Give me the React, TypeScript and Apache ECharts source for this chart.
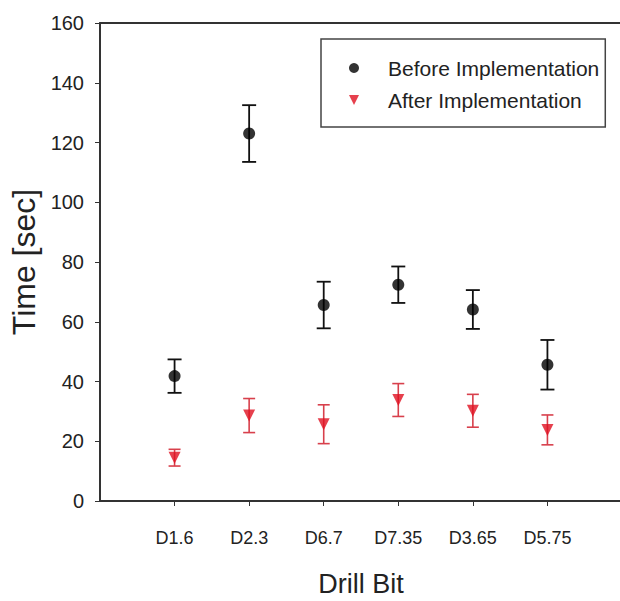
import React, { useEffect, useRef } from "react";
import * as echarts from "echarts";

const categories = ["D1.6", "D2.3", "D6.7", "D7.35", "D3.65", "D5.75"];
const beforeMean = [41.8, 123, 65.6, 72.4, 64.1, 45.6];
const beforeErr = [5.6, 9.5, 7.8, 6.1, 6.5, 8.3];
const afterMean = [14.5, 28.6, 25.7, 33.8, 30.2, 23.8];
const afterErr = [2.8, 5.7, 6.5, 5.5, 5.5, 5.0];
const yTicks = [0, 20, 40, 60, 80, 100, 120, 140, 160];

const FONT = "'Liberation Sans', Arial, sans-serif";

function errRender(capW: number, color: string, lw: number) {
  return (params: any, api: any) => {
    const x = api.value(0);
    const lo = api.value(1);
    const hi = api.value(2);
    const pHi = api.coord([x, hi]);
    const pLo = api.coord([x, lo]);
    const st = { stroke: color, lineWidth: lw };
    return {
      type: "group",
      children: [
        { type: "line", shape: { x1: pHi[0], y1: pHi[1], x2: pLo[0], y2: pLo[1] }, style: st },
        { type: "line", shape: { x1: pHi[0] - capW / 2, y1: pHi[1], x2: pHi[0] + capW / 2, y2: pHi[1] }, style: st },
        { type: "line", shape: { x1: pLo[0] - capW / 2, y1: pLo[1], x2: pLo[0] + capW / 2, y2: pLo[1] }, style: st },
      ],
    };
  };
}

export default function App() {
  const ref = useRef<HTMLDivElement>(null);
  useEffect(() => {
    if (!ref.current) return;
    const chart = echarts.init(ref.current, null, { renderer: "svg" });
    const positions = categories.map((_, i) => i + 1);
    const beforePts = categories.map((_, i) => [i + 1, beforeMean[i]]);
    const afterPts = categories.map((_, i) => [i + 1, afterMean[i]]);
    const beforeBars = categories.map((_, i) => [i + 1, beforeMean[i] - beforeErr[i], beforeMean[i] + beforeErr[i]]);
    const afterBars = categories.map((_, i) => [i + 1, afterMean[i] - afterErr[i], afterMean[i] + afterErr[i]]);
    chart.setOption({
      animation: false,
      backgroundColor: "#ffffff",
      textStyle: { fontFamily: FONT },
      grid: {
        left: 100,
        top: 23,
        width: 522,
        height: 478,
        show: false,
        containLabel: false,
        outerBoundsMode: "none",
      },
      legend: {
        orient: "vertical",
        left: 321,
        top: 39,
        padding: [18, 6, 16, 28],
        itemWidth: 58,
        itemHeight: 10,
        itemGap: 10,
        borderColor: "#444",
        borderWidth: 1.5,
        textStyle: { fontFamily: FONT, fontSize: 21, color: "#222", lineHeight: 22 },
        data: [
          { name: "Before Implementation", icon: "circle" },
          { name: "After Implementation", icon: "path://M0,0L10,0L5,10Z" },
        ],
      },
      xAxis: [
        {
          type: "value",
          min: 0,
          max: categories.length + 1,
          interval: 1,
          name: "Drill Bit",
          nameLocation: "middle",
          nameGap: 69,
          nameTextStyle: { fontFamily: FONT, fontSize: 27, color: "#222" },
          axisLine: { show: true, onZero: false, lineStyle: { color: "#333", width: 2 } },
          axisTick: { show: true, inside: false, length: 5, customValues: positions, lineStyle: { color: "#333", width: 1 } },
          axisLabel: {
            fontFamily: FONT,
            fontSize: 18,
            color: "#222",
            margin: 28,
            customValues: positions,
            formatter: (v: number) => categories[Math.round(v) - 1] ?? "",
          },
          splitLine: { show: false },
        },
        {
          type: "value",
          position: "top",
          min: 0,
          max: categories.length + 1,
          interval: 1,
          axisLine: { show: true, onZero: false, lineStyle: { color: "#333", width: 2 } },
          axisTick: { show: false },
          axisLabel: { show: false },
          splitLine: { show: false },
        },
      ],
      yAxis: {
        type: "value",
        min: yTicks[0],
        max: yTicks[yTicks.length - 1],
        interval: 20,
        name: "Time [sec]",
        nameLocation: "middle",
        nameGap: 58,
        nameTextStyle: { fontFamily: FONT, fontSize: 32, color: "#222" },
        axisLine: { show: true, lineStyle: { color: "#333", width: 2 } },
        axisTick: { show: true, inside: false, length: 5, lineStyle: { color: "#333", width: 1 } },
        axisLabel: { fontFamily: FONT, fontSize: 20, color: "#222", margin: 16 },
        splitLine: { show: false },
      },
      series: [
        {
          name: "beforeErr",
          type: "custom",
          renderItem: errRender(14, "#111", 1.8),
          encode: { x: 0, y: [1, 2] },
          data: beforeBars,
          z: 1,
        },
        {
          name: "afterErr",
          type: "custom",
          renderItem: errRender(12, "#d8404c", 1.6),
          encode: { x: 0, y: [1, 2] },
          data: afterBars,
          z: 1,
        },
        {
          name: "Before Implementation",
          type: "scatter",
          symbol: "circle",
          symbolSize: 12,
          itemStyle: { color: "#000" },
          data: beforePts,
          z: 3,
        },
        {
          name: "After Implementation",
          type: "scatter",
          symbol: "triangle",
          symbolRotate: 180,
          symbolSize: 12,
          itemStyle: { color: "#e01020" },
          data: afterPts,
          z: 3,
        },
      ],
    });
    return () => chart.dispose();
  }, []);
  return (
    <div
      ref={ref}
      style={{ position: "fixed", left: 0, top: 0, width: 620, height: 601, background: "#fff" }}
    />
  );
}
